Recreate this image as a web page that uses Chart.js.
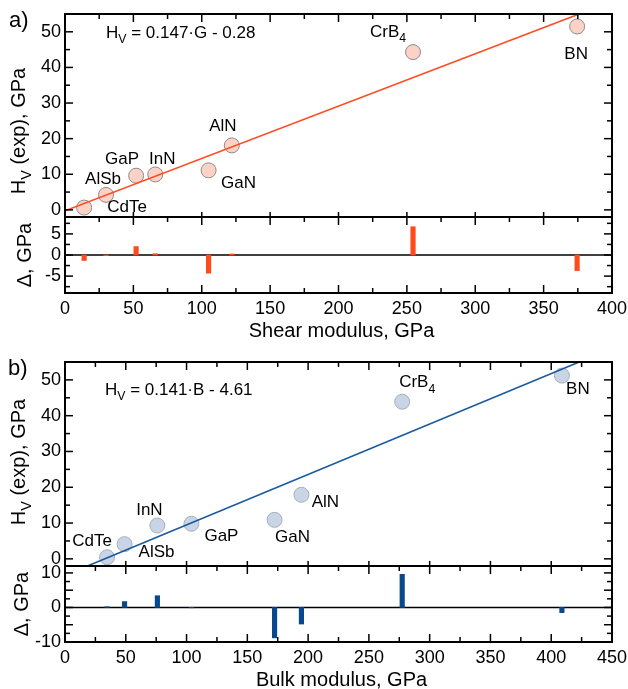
<!DOCTYPE html>
<html>
<head>
<meta charset="utf-8">
<script src="https://cdn.jsdelivr.net/npm/chart.js@4.4.0/dist/chart.umd.min.js"></script>
<style>
    html, body { margin: 0; padding: 0; background: #fff; overflow: hidden; }
    #wrap { position: relative; width: 628px; height: 689px; }
    #wrap canvas { position: absolute; left: 0; top: 0; }
</style>
</head>
<body>
<div id="wrap">
    <canvas id="shearTop" width="628" height="689"></canvas>
    <canvas id="shearRes" width="628" height="689"></canvas>
    <canvas id="bulkTop" width="628" height="689"></canvas>
    <canvas id="bulkRes" width="628" height="689"></canvas>
</div>
<script>
// materials, same order in every array below
const materials = ['CdTe', 'AlSb', 'GaP', 'InN', 'GaN', 'AlN', 'CrB4', 'BN'];

// a) shear modulus (GPa) vs Vickers hardness
const shearModulus = [14, 30, 52, 66, 105, 122, 254.5, 374.5];
const hvShear = [0.65, 4.2, 9.6, 9.95, 11.1, 18.1, 44.3, 51.5];
const residShear = [-1.3, -0.15, 2.0, 0.3, -4.3, 0.25, 6.7, -3.7];
const fitShearX = [0, 376];
const fitShearY = [-0.28, 55];

// b) bulk modulus (GPa) vs Vickers hardness
const bulkModulus = [34.6, 49, 104, 76, 172.4, 194.5, 277.4, 408.8];
const hvBulk = [0.45, 4.1, 9.8, 9.3, 10.9, 17.9, 43.9, 51.2];
const residBulk = [0.2, 1.7, -0.1, 3.4, -8.8, -4.8, 9.6, -1.5];
const fitBulkX = [18.5, 423];
const fitBulkY = [-2, 55];

// tick labels
const shearTicks = [0, 50, 100, 150, 200, 250, 300, 350, 400];
const bulkTicks = [0, 50, 100, 150, 200, 250, 300, 350, 400, 450];
const hvTicks = [0, 10, 20, 30, 40, 50];
const residShearTicks = [-5, 0, 5];
const residBulkTicks = [-10, -5, 0, 5, 10];

const FONT = "'Liberation Sans', Arial, Helvetica, sans-serif";
Chart.defaults.font.family = FONT;
Chart.defaults.font.size = 18;
Chart.defaults.color = '#000';

const W = 628, H = 689, LEFT = 65, RIGHT = 612;

// split "CrB4" into normal + subscript parts
function splitSub(s) {
    const parts = [];
    s.replace(/(\D+)|(\d+)/g, (m, a, d) => { parts.push({t: m, sub: !!d}); });
    return parts;
}

function drawRich(ctx, parts, x, y, size, align, angle) {
    const sub = size * 0.72;
    ctx.save();
    ctx.translate(x, y);
    if (angle) ctx.rotate(angle);
    ctx.fillStyle = '#000';
    ctx.textBaseline = 'middle';
    ctx.textAlign = 'left';
    let w = 0;
    parts.forEach(p => { ctx.font = (p.sub ? sub : size) + 'px ' + FONT; p.w = ctx.measureText(p.t).width; w += p.w; });
    let cx = align === 'center' ? -w / 2 : 0;
    parts.forEach(p => {
        ctx.font = (p.sub ? sub : size) + 'px ' + FONT;
        ctx.fillText(p.t, cx, p.sub ? size * 0.38 : 0);
        cx += p.w;
    });
    ctx.restore();
}

// frame, inward ticks (major + minor) and zero line
const framePlugin = {
    id: 'frame',
    beforeDatasetsDraw(chart, args, o) {
        if (!o.zero) return;
        const {ctx, chartArea: a} = chart;
        const y0 = chart.scales.y.getPixelForValue(0);
        ctx.save();
        ctx.strokeStyle = '#000';
        ctx.lineWidth = 1.5;
        ctx.beginPath(); ctx.moveTo(a.left, y0); ctx.lineTo(a.right, y0); ctx.stroke();
        ctx.restore();
    },
    afterDatasetsDraw(chart, args, o) {
        const {ctx, chartArea: a, scales: {x, y}} = chart;
        const seg = (x1, y1, x2, y2) => { ctx.beginPath(); ctx.moveTo(x1, y1); ctx.lineTo(x2, y2); ctx.stroke(); };
        const isMajor = (v, step) => Math.abs(v / step - Math.round(v / step)) < 1e-6;
        ctx.save();
        ctx.strokeStyle = '#000';
        ctx.lineWidth = 1.5;
        for (let k = Math.ceil(x.min / o.xMinor - 1e-9); k * o.xMinor <= x.max + 1e-9; k++) {
            const v = k * o.xMinor, p = x.getPixelForValue(v), m = isMajor(v, o.xMajor);
            seg(p, a.top, p, a.top + (m ? o.major : o.minor));
            if (m || !o.bottomMajorOnly) seg(p, a.bottom, p, a.bottom - (m ? (o.bottomMajorOnly ? 5 : o.major) : o.minor));
        }
        for (let k = Math.ceil(y.min / o.yMinor - 1e-9); k * o.yMinor <= y.max + 1e-9; k++) {
            const v = k * o.yMinor, p = y.getPixelForValue(v), m = isMajor(v, o.yMajor);
            const len = m ? o.major : o.minor;
            seg(a.left, p, a.left + len, p);
            seg(a.right, p, a.right - len, p);
        }
        ctx.lineWidth = 2;
        ctx.strokeRect(a.left, a.top, a.right - a.left, a.bottom - a.top);
        ctx.restore();
    }
};

// point labels, equations, panel letters and axis titles
const textPlugin = {
    id: 'texts',
    afterDraw(chart, args, o) {
        const ctx = chart.ctx, a = chart.chartArea;
        if (o.offsets) {
            chart.getDatasetMeta(1).data.forEach((pt, i) => {
                const [dx, dy] = o.offsets[i];
                drawRich(ctx, splitSub(materials[i]), pt.x + dx, pt.y + dy, 17, 'center');
            });
        }
        (o.items || []).forEach(it => drawRich(ctx, it.parts, it.x, it.y, it.size, it.align, it.angle));
        if (o.xTitle) drawRich(ctx, [{t: o.xTitle}], (a.left + a.right) / 2 + 3, a.bottom + 38.5, 20, 'center');
    }
};

function yAxis(min, max, ticks) {
    return {
        type: 'linear', min: min, max: max,
        afterBuildTicks: s => { s.ticks = ticks.map(v => ({value: v})); },
        afterFit: s => { s.width = LEFT; s.paddingTop = s.paddingBottom = 0; },
        grid: {display: false, drawTicks: false},
        border: {display: false},
        ticks: {padding: 4}
    };
}

function xAxis(max, ticks, show) {
    if (!show) return {type: 'linear', min: 0, max: max, display: false};
    return {
        type: 'linear', min: 0, max: max, offset: false,
        afterBuildTicks: s => { s.ticks = ticks.map(v => ({value: v})); },
        afterFit: s => { s.height = 30; s.paddingLeft = s.paddingRight = 0; },
        grid: {display: false, drawTicks: false},
        border: {display: false},
        ticks: {padding: 5, maxRotation: 0, autoSkip: false}
    };
}

function baseOptions(top, bottom) {
    return {
        responsive: false,
        animation: false,
        devicePixelRatio: 1,
        events: [],
        layout: {padding: {left: 0, right: W - RIGHT, top: top, bottom: bottom}}
    };
}

function scatterPanel(id, xs, ys, fitX, fitY, xMax, top, bottom, style, texts) {
    const opts = baseOptions(top, H - bottom);
    opts.scales = {x: xAxis(xMax, null, false), y: yAxis(-2, 55, hvTicks)};
    opts.plugins = {
        legend: {display: false},
        tooltip: {enabled: false},
        frame: {xMinor: 25, xMajor: 50, yMinor: 5, yMajor: 10, major: 8, minor: 5, bottomMajorOnly: true},
        texts: texts
    };
    return new Chart(document.getElementById(id), {
        type: 'scatter',
        data: {
            datasets: [{
                type: 'line',
                data: fitX.map((x, i) => ({x: x, y: fitY[i]})),
                borderColor: style.line,
                borderWidth: 1.6,
                pointRadius: 0,
                fill: false,
                order: 0
            }, {
                data: xs.map((x, i) => ({x: x, y: ys[i]})),
                backgroundColor: style.fill,
                borderColor: style.edge,
                borderWidth: 1,
                pointRadius: 7.5,
                order: 1
            }]
        },
        options: opts,
        plugins: [framePlugin, textPlugin]
    });
}

function residualPanel(id, xs, res, xMax, xTicks, yMin, yMax, yTicks, top, bottom, color, texts) {
    const opts = baseOptions(top, H - bottom - 30);
    opts.scales = {x: xAxis(xMax, xTicks, true), y: yAxis(yMin, yMax, yTicks)};
    opts.plugins = {
        legend: {display: false},
        tooltip: {enabled: false},
        frame: {xMinor: 25, xMajor: 50, yMinor: 2.5, yMajor: 5, major: 8, minor: 5, zero: true},
        texts: texts
    };
    return new Chart(document.getElementById(id), {
        type: 'bar',
        data: {
            datasets: [{
                data: xs.map((x, i) => ({x: x, y: res[i]})),
                backgroundColor: color,
                barThickness: 4.5
            }]
        },
        options: opts,
        plugins: [framePlugin, textPlugin]
    });
}

const ROT = -Math.PI / 2;
const hvTitle = [{t: 'H'}, {t: 'V', sub: true}, {t: ' (exp), GPa'}];

// a) shear modulus
scatterPanel('shearTop', shearModulus, hvShear, fitShearX, fitShearY, 400, 14, 217,
    {line: '#ff4a20', fill: '#fbd2c5', edge: '#8c8c8c'},
    {
        offsets: [[43, 0], [-3, -16], [-14, -16], [7, -15], [30, 13], [-9, -19], [-25, -20], [-1, 28]],
        items: [
            {parts: [{t: 'a)'}], x: 9, y: 21, size: 22, align: 'left'},
            {parts: [{t: 'H'}, {t: 'V', sub: true}, {t: ' = 0.147\u00b7G - 0.28'}], x: 106, y: 33, size: 17, align: 'left'},
            {parts: hvTitle, x: 19, y: 131, size: 20, align: 'center', angle: ROT}
        ]
    });
residualPanel('shearRes', shearModulus, residShear, 400, shearTicks, -9, 9, residShearTicks, 217, 293, '#ff4a1c',
    {
        xTitle: 'Shear modulus, GPa',
        items: [{parts: [{t: '\u0394, GPa'}], x: 25, y: 255, size: 20, align: 'center', angle: ROT}]
    });

// b) bulk modulus
scatterPanel('bulkTop', bulkModulus, hvBulk, fitBulkX, fitBulkY, 450, 362, 566,
    {line: '#1a5a9e', fill: '#c9d5e4', edge: '#a3afbe'},
    {
        offsets: [[-15, -16], [32, 8], [30, 13], [-8, -15], [18, 17], [24, 8], [15, -19], [16, 14]],
        items: [
            {parts: [{t: 'b)'}], x: 8, y: 369, size: 22, align: 'left'},
            {parts: [{t: 'H'}, {t: 'V', sub: true}, {t: ' = 0.141\u00b7B - 4.61'}], x: 105, y: 390.5, size: 17, align: 'left'},
            {parts: hvTitle, x: 19, y: 462, size: 20, align: 'center', angle: ROT}
        ]
    });
residualPanel('bulkRes', bulkModulus, residBulk, 450, bulkTicks, -10, 12, residBulkTicks, 566, 642, '#07498c',
    {
        xTitle: 'Bulk modulus, GPa',
        items: [{parts: [{t: '\u0394, GPa'}], x: 22, y: 604, size: 20, align: 'center', angle: ROT}]
    });
</script>
</body>
</html>
